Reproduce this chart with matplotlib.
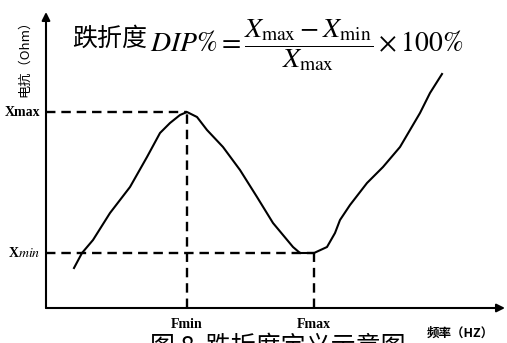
import matplotlib
matplotlib.use('Agg')
import matplotlib.pyplot as plt

# Sketch curve (frequency, reactance) in arbitrary units
freq = [28, 36, 47, 64, 84, 101, 114, 124, 134, 141, 151, 161, 177, 194, 211,
        227, 247, 254, 268, 281, 289, 294, 304, 321, 337, 354, 364, 374, 384, 396]
reactance = [40, 55, 68, 95, 121, 151, 175, 185, 193, 196, 191, 178, 161, 138, 111,
             85, 61, 55, 55, 61, 75, 88, 103, 125, 141, 161, 178, 195, 215, 234]

x_max = 196
x_min = 55
f_min = 141
f_max = 268

y_labels = ['Xmax', 'X$\\it{min}$']
x_labels = ['Fmin', 'Fmax']


def main():
    plt.rcParams['mathtext.fontset'] = 'stix'
    serif = ['Liberation Serif', 'DejaVu Serif']
    cjk = ['Noto Sans CJK SC', 'DejaVu Sans']

    fig = plt.figure(figsize=(5.07, 3.43), dpi=100)
    ax = fig.add_axes([46 / 507, 35 / 343, 459 / 507, 296 / 343])
    ax.set_xlim(0, 459)
    ax.set_ylim(0, 296)

    # axes as arrows
    for side in ['top', 'right', 'left', 'bottom']:
        ax.spines[side].set_visible(False)
    ax.annotate('', xy=(459, 0), xytext=(0, 0),
                arrowprops=dict(arrowstyle='-|>', color='black', lw=1.5,
                                mutation_scale=12, shrinkA=0, shrinkB=0))
    ax.annotate('', xy=(0, 296), xytext=(0, 0),
                arrowprops=dict(arrowstyle='-|>', color='black', lw=1.5,
                                mutation_scale=12, shrinkA=0, shrinkB=0))
    ax.set_xticks([])
    ax.set_yticks([])

    # curve
    ax.plot(freq, reactance, color='black', lw=1.5)

    # dashed guides
    dash = dict(color='black', lw=1.7, linestyle=(0, (4, 2.5)))
    ax.plot([0, f_min], [x_max, x_max], **dash)
    ax.plot([0, f_max], [x_min, x_min], **dash)
    ax.plot([f_min, f_min], [0, x_max], **dash)
    ax.plot([f_max, f_max], [0, x_min], **dash)

    # tick-like labels
    ax.text(-6, x_max, y_labels[0], ha='right', va='center', fontsize=10,
            fontweight='bold', family=serif)
    ax.text(-6, x_min, y_labels[1], ha='right', va='center', fontsize=10,
            fontweight='bold', family=serif)
    ax.text(f_min, -10, x_labels[0], ha='center', va='top', fontsize=10,
            fontweight='bold', family=serif)
    ax.text(f_max, -10, x_labels[1], ha='center', va='top', fontsize=10,
            fontweight='bold', family=serif)

    # axis titles
    fig.text(25 / 507, 1 - 55 / 343, '电抗（Ohm）', rotation=90, ha='center',
             va='center', fontsize=9.5, family=cjk)
    fig.text(460 / 507, 1 - 333 / 343, '频率（HZ）', ha='center', va='center',
             fontsize=9, fontweight='bold', family=cjk)

    # formula
    fig.text(72 / 507, 1 - 39 / 343, '跌折度', ha='left', va='center',
             fontsize=18, family=cjk)
    fig.text(150 / 507, 1 - 45 / 343,
             r'$\mathit{DIP}\%=\dfrac{X_{\mathrm{max}}-X_{\mathrm{min}}}{X_{\mathrm{max}}}\times 100\%$',
             ha='left', va='center', fontsize=20)

    # caption (cut off at the bottom like the reference)
    fig.text(150 / 507, 1 - 334 / 343, '图 8  跌折度定义示意图', ha='left',
             va='top', fontsize=18, family=cjk)

    fig.savefig('out.png', dpi=100)


if __name__ == '__main__':
    main()
